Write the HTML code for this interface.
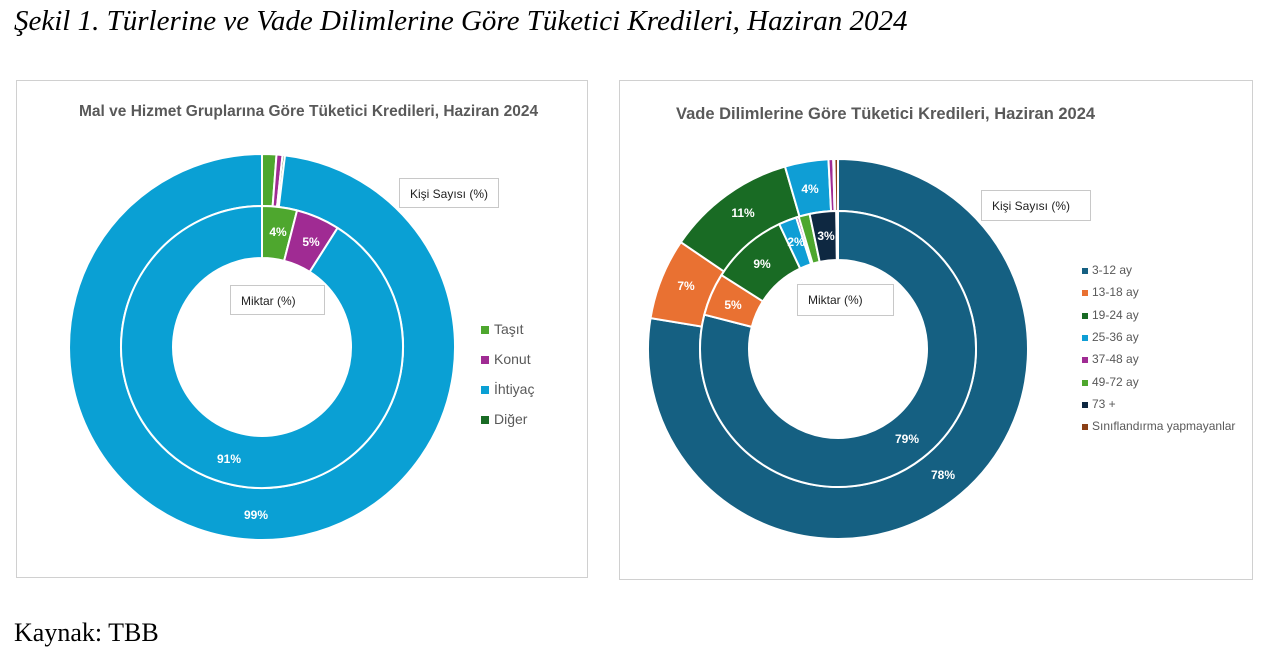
<!DOCTYPE html><html><head><meta charset="utf-8"><style>
body{margin:0;width:1274px;height:668px;background:#fff;overflow:hidden;position:relative;font-family:"Liberation Sans",sans-serif}
.t{position:absolute;font-family:"Liberation Serif",serif}
.box{position:absolute;border:1.5px solid #d0d0d0;background:#fff}
.tb{position:absolute;border:1px solid #c8c8c8;background:#fff;font-size:12px;color:#222;padding:0 0 0 10px;box-sizing:border-box;line-height:30px}
.ttl{position:absolute;font-size:15.5px;font-weight:bold;color:#595959}
.lg{position:absolute;font-size:14px;color:#595959}
.lg2{position:absolute;font-size:12px;color:#595959}
</style></head><body>
<div class="t" style="left:14px;top:5px;font-size:29px;font-style:italic">Şekil 1. Türlerine ve Vade Dilimlerine Göre Tüketici Kredileri, Haziran 2024</div>
<div class="t" style="left:14px;top:618px;font-size:26px">Kaynak: TBB</div>
<div class="box" style="left:16px;top:80px;width:570px;height:496px"></div>
<div class="box" style="left:619px;top:80px;width:632px;height:498px"></div>
<svg id="s" width="1274" height="668" style="position:absolute;left:0;top:0"></svg>
<div class="ttl" style="left:79px;top:103px">Mal ve Hizmet Gruplarına Göre Tüketici Kredileri, Haziran 2024</div>
<div class="ttl" style="left:676px;top:105px;font-size:16.5px">Vade Dilimlerine Göre Tüketici Kredileri, Haziran 2024</div>
<div class="tb" style="left:399px;top:178px;width:100px;height:30px">Kişi Sayısı (%)</div>
<div class="tb" style="left:230px;top:285px;width:95px;height:30px">Miktar (%)</div>
<div class="tb" style="left:981px;top:190px;width:110px;height:31px">Kişi Sayısı (%)</div>
<div class="tb" style="left:797px;top:284px;width:97px;height:32px">Miktar (%)</div>
<div class="lg" style="left:481px;top:321px"><span style="display:inline-block;width:8px;height:8px;background:#4ea72e;margin-right:5px"></span>Taşıt</div>
<div class="lg" style="left:481px;top:351px"><span style="display:inline-block;width:8px;height:8px;background:#a02b93;margin-right:5px"></span>Konut</div>
<div class="lg" style="left:481px;top:381px"><span style="display:inline-block;width:8px;height:8px;background:#0aa0d4;margin-right:5px"></span>İhtiyaç</div>
<div class="lg" style="left:481px;top:411px"><span style="display:inline-block;width:8px;height:8px;background:#196b24;margin-right:5px"></span>Diğer</div>
<div id="lg2"></div>
<script>
var s=document.getElementById('s'),h='';
function arc(cx,cy,r1,r2,a0,a1,c){var f=function(r,a){a=(a*3.6-90)*Math.PI/180;return (cx+r*Math.cos(a)).toFixed(2)+' '+(cy+r*Math.sin(a)).toFixed(2)};var L=(a1-a0)>50?1:0;
h+='<path d="M'+f(r2,a0)+' A'+r2+' '+r2+' 0 '+L+' 1 '+f(r2,a1)+' L'+f(r1,a1)+' A'+r1+' '+r1+' 0 '+L+' 0 '+f(r1,a0)+'Z" fill="'+c+'" stroke="#fff" stroke-width="2"/>';}
function ring(cx,cy,r1,r2,d){var a=0;d.forEach(function(x){if(x[0]>0)arc(cx,cy,r1,r2,a,a+x[0],x[1]);a+=x[0];});}
ring(262,347,141,193,[[1.2,'#4ea72e'],[0.5,'#a02b93'],[0.2,'#196b24'],[98.1,'#0aa0d4']]);
ring(262,347,89,141,[[4,'#4ea72e'],[5,'#a02b93'],[91,'#0aa0d4']]);
var C=['#156082','#e97132','#196b24','#0f9ed5','#a02b93','#4ea72e','#0e2841','#8b3f16'];
ring(838,349,138,190,[[77.6,C[0]],[6.9,C[1]],[11,C[2]],[3.7,C[3]],[0.4,C[4]],[0.05,C[5]],[0.05,C[6]],[0.3,C[7]]]);
ring(838,349,89,138,[[79,C[0]],[5,C[1]],[9,C[2]],[2.1,C[3]],[0.3,C[4]],[1.3,C[5]],[3.1,C[6]],[0.2,C[7]]]);
function tx(x,y,t){h+='<text x="'+x+'" y="'+y+'" fill="#fff" font-size="12" font-weight="bold" text-anchor="middle" font-family="Liberation Sans">'+t+'</text>';}
tx(278,236,'4%');tx(311,246,'5%');tx(229,463,'91%');tx(256,519,'99%');
tx(943,479,'78%');tx(907,443,'79%');tx(743,217,'11%');tx(686,290,'7%');tx(733,309,'5%');tx(762,268,'9%');tx(810,193,'4%');tx(796,246,'2%');tx(826,240,'3%');
s.innerHTML=h;
var n=['3-12 ay','13-18 ay','19-24 ay','25-36 ay','37-48 ay','49-72 ay','73 +','Sınıflandırma yapmayanlar'],g='';
n.forEach(function(t,i){g+='<div class="lg2" style="left:1082px;top:'+(263+i*22.3)+'px"><span style="display:inline-block;width:6px;height:6px;background:'+C[i]+';margin-right:4px"></span>'+t+'</div>';});
document.getElementById('lg2').innerHTML=g;
</script>
</body></html>
